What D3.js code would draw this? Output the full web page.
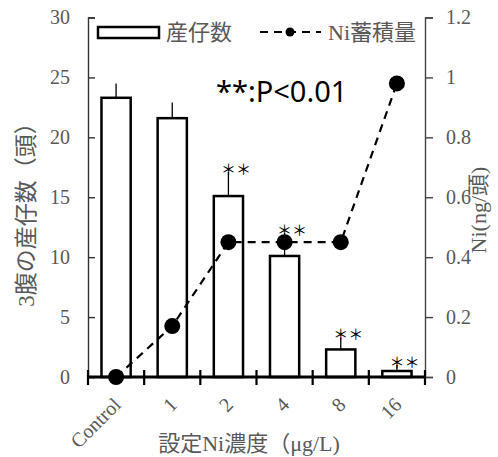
<!DOCTYPE html>
<html>
<head>
<meta charset="utf-8">
<script src="https://cdn.jsdelivr.net/npm/d3@7"></script>
<style>
  body { margin: 0; background: #fff; }
  svg { display: block; }
</style>
</head>
<body>
<div id="chart"></div>
<script>
const categories = ['Control', '1', '2', '4', '8', '16']
const counts = [23.3, 21.6, 15.1, 10.1, 2.3, 0.5]
const countErr = [1.2, 1.3, 2.0, 1.9, 1.0, 0.5]
const niValues = [0, 0.17, 0.45, 0.45, 0.45, 0.98]
const significant = [false, false, true, true, true, true]
const leftTicks = [0, 5, 10, 15, 20, 25, 30]
const rightTicks = [0, 0.2, 0.4, 0.6, 0.8, 1, 1.2]

const width = 498
const height = 457
const plotLeft = 88
const plotRight = 425
const plotTop = 17.5
const plotBottom = 377

const serif = '"Liberation Serif", "DejaVu Serif", "Noto Sans CJK JP", serif'
const gray = '#595959'

const svg = d3
  .select('#chart')
  .append('svg')
  .attr('width', width)
  .attr('height', height)

const x = d3.scaleBand().domain(categories).range([plotLeft, plotRight]).padding(0)
const y = d3.scaleLinear().domain([0, 30]).range([plotBottom, plotTop])
const y2 = d3.scaleLinear().domain([0, 1.2]).range([plotBottom, plotTop])

const barWidth = x.bandwidth() * 0.52
const cx = d => x(d) + x.bandwidth() / 2

// left axis
const leftAxis = svg
  .append('g')
  .attr('transform', `translate(${plotLeft},0)`)
  .call(d3.axisLeft(y).tickValues(leftTicks).tickSize(-7).tickPadding(18))
leftAxis.select('.domain').attr('stroke', '#333').attr('stroke-width', 1.4)
leftAxis.selectAll('.tick line').attr('stroke', '#333').attr('stroke-width', 1.4)
leftAxis
  .selectAll('.tick text')
  .attr('fill', gray)
  .style('font-family', serif)
  .style('font-size', '20px')

// right axis
const rightAxis = svg
  .append('g')
  .attr('transform', `translate(${plotRight},0)`)
  .call(
    d3
      .axisRight(y2)
      .tickValues(rightTicks)
      .tickSize(8)
      .tickPadding(13)
      .tickFormat(d => String(+d.toFixed(1)))
  )
rightAxis.select('.domain').attr('stroke', '#444').attr('stroke-width', 1.4)
rightAxis.selectAll('.tick line').attr('stroke', '#444').attr('stroke-width', 1.4)
rightAxis
  .selectAll('.tick text')
  .attr('fill', gray)
  .style('font-family', serif)
  .style('font-size', '20px')

// bars
svg
  .selectAll('.bar')
  .data(categories)
  .enter()
  .append('rect')
  .attr('class', 'bar')
  .attr('x', d => cx(d) - barWidth / 2)
  .attr('width', barWidth)
  .attr('y', (d, i) => y(counts[i]))
  .attr('height', (d, i) => y(0) - y(counts[i]))
  .attr('fill', 'white')
  .attr('stroke', 'black')
  .attr('stroke-width', 2.5)

// error bars (upper only)
svg
  .selectAll('.err')
  .data(categories)
  .enter()
  .append('line')
  .attr('class', 'err')
  .attr('x1', d => cx(d))
  .attr('x2', d => cx(d))
  .attr('y1', (d, i) => y(counts[i]))
  .attr('y2', (d, i) => y(counts[i] + countErr[i]))
  .attr('stroke', 'black')
  .attr('stroke-width', 1.3)

// x axis labels, rotated 45 degrees
const xLabels = svg
  .selectAll('.xlabel')
  .data(categories)
  .enter()
  .append('g')
  .attr('class', 'xlabel')
  .attr('transform', d => `translate(${cx(d) + 6},${plotBottom + 29})`)
xLabels
  .append('text')
  .attr('transform', 'rotate(-45)')
  .attr('text-anchor', 'end')
  .attr('fill', gray)
  .style('font-family', serif)
  .style('font-size', '20px')
  .text(d => d)

svg
  .append('line')
  .attr('x1', plotLeft)
  .attr('x2', plotRight)
  .attr('y1', y(0))
  .attr('y2', y(0))
  .attr('stroke', 'black')
  .attr('stroke-width', 2.8)

const boundaries = categories.map(d => x(d)).concat([x(categories[categories.length - 1]) + x.step()])
svg
  .selectAll('.xtick')
  .data(boundaries)
  .enter()
  .append('line')
  .attr('class', 'xtick')
  .attr('x1', d => d)
  .attr('x2', d => d)
  .attr('y1', y(0) - 7)
  .attr('y2', y(0) + 8)
  .attr('stroke', 'black')
  .attr('stroke-width', 2.2)

// Ni line
const line = d3
  .line()
  .x((d, i) => cx(categories[i]))
  .y(d => y2(d))

svg
  .append('path')
  .datum(niValues)
  .attr('d', line)
  .attr('fill', 'none')
  .attr('stroke', 'black')
  .attr('stroke-width', 2.2)
  .attr('stroke-dasharray', '8,6')

svg
  .selectAll('.dot')
  .data(niValues)
  .enter()
  .append('circle')
  .attr('class', 'dot')
  .attr('cx', (d, i) => cx(categories[i]))
  .attr('cy', d => y2(d))
  .attr('r', 8)
  .attr('fill', 'black')

// significance stars
svg
  .selectAll('.star')
  .data(categories.filter((d, i) => significant[i]))
  .enter()
  .append('text')
  .attr('class', 'star')
  .attr('x', d => cx(d) - 7.5)
  .attr('y', d => {
    const i = categories.indexOf(d)
    return y(counts[i] + countErr[i]) + 3
  })
  .style('font-family', '"Noto Sans CJK JP", sans-serif')
  .style('font-size', '15px')
  .attr('fill', 'black')
  .text('＊＊')

// annotation
svg
  .append('text')
  .attr('x', 216)
  .attr('y', 102)
  .style('font-family', '"Noto Sans", sans-serif')
  .style('font-size', '29px')
  .attr('fill', 'black')
  .text('**:P<0.01')

// legend
svg
  .append('rect')
  .attr('x', 98)
  .attr('y', 27)
  .attr('width', 61)
  .attr('height', 11)
  .attr('fill', 'white')
  .attr('stroke', 'black')
  .attr('stroke-width', 2.5)
svg
  .append('text')
  .attr('x', 166)
  .attr('y', 40)
  .attr('fill', gray)
  .style('font-family', serif)
  .style('font-size', '22px')
  .text('産仔数')

svg
  .append('line')
  .attr('x1', 260)
  .attr('x2', 321)
  .attr('y1', 32)
  .attr('y2', 32)
  .attr('stroke', 'black')
  .attr('stroke-width', 2.2)
  .attr('stroke-dasharray', '8,6')
svg
  .append('circle')
  .attr('cx', 290)
  .attr('cy', 32)
  .attr('r', 4.5)
  .attr('fill', 'black')
svg
  .append('text')
  .attr('x', 328)
  .attr('y', 40)
  .attr('fill', gray)
  .style('font-family', serif)
  .style('font-size', '22px')
  .text('Ni蓄積量')

// axis titles
svg
  .append('text')
  .attr('transform', 'translate(34,209) rotate(-90)')
  .attr('text-anchor', 'middle')
  .attr('fill', gray)
  .style('font-family', serif)
  .style('font-size', '23px')
  .text('3腹の産仔数（頭）')

svg
  .append('text')
  .attr('transform', 'translate(486,210) rotate(-90)')
  .attr('text-anchor', 'middle')
  .attr('fill', gray)
  .style('font-family', serif)
  .style('font-size', '22px')
  .text('Ni(ng/頭)')

svg
  .append('text')
  .attr('x', 249)
  .attr('y', 451)
  .attr('text-anchor', 'middle')
  .attr('fill', gray)
  .style('font-family', serif)
  .style('font-size', '22px')
  .text('設定Ni濃度（μg/L)')
</script>
</body>
</html>
